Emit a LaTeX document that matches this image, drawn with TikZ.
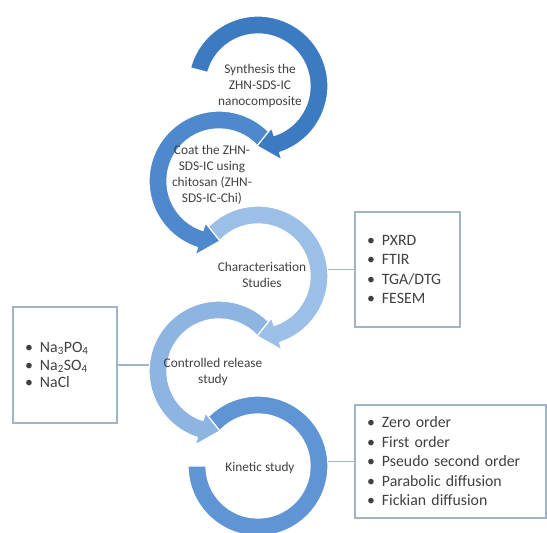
\documentclass[tikz,border=0pt]{standalone}
\usepackage{fontspec}
\setmainfont{Carlito}
\usetikzlibrary{calc}
\definecolor{txt}{HTML}{404040}
\definecolor{boxc}{HTML}{A3B2C4}
\definecolor{ringA}{HTML}{3C7BC1}
\definecolor{ringB}{HTML}{4D89CC}
\definecolor{ringC}{HTML}{9CBFE7}
\definecolor{ringD}{HTML}{8EB4E2}
\definecolor{ringE}{HTML}{5F95D5}
\tikzset{
  ringshape/.style={fill=#1, draw=white, line width=1.3pt, line join=round},
  ringtext/.style={text=txt, align=center, font=\fontsize{13.3}{16}\selectfont, inner sep=0pt},
  listbox/.style={draw=boxc, line width=1.3pt, fill=white, text=txt, align=left,
    inner xsep=12pt, inner ysep=0pt, font=\fontsize{15.8}{19.5}\selectfont},
  conn/.style={draw=boxc, line width=1.3pt}
}
\newcommand\bul{\makebox[15pt][l]{\textbullet}}
\begin{document}
\begin{tikzpicture}[x=1pt,y=1pt]
\useasboundingbox (0,0) rectangle (547,533);
% ring 5 (bottom)
\begin{scope}[shift={(258,67)}]
  \path[ringshape=ringE] (140:70) arc[start angle=140,end angle=-180,radius=70]
    -- (-180:52) arc[start angle=-180,end angle=140,radius=52] -- cycle;
\end{scope}
% ring 4
\begin{scope}[shift={(219,162)}]
  \path[ringshape=ringD] (42:70) arc[start angle=42,end angle=252,radius=70]
    -- (252:78) -- (271:60) -- (252:44) -- (252:52)
    arc[start angle=252,end angle=42,radius=52] -- cycle;
\end{scope}
% ring 3
\begin{scope}[shift={(258,257)}]
  \path[ringshape=ringC] (140:70) arc[start angle=140,end angle=-72,radius=70]
    -- (-72:78) -- (-91:60) -- (-72:44) -- (-72:52)
    arc[start angle=-72,end angle=140,radius=52] -- cycle;
\end{scope}
% ring 2
\begin{scope}[shift={(219,352)}]
  \path[ringshape=ringB] (42:70) arc[start angle=42,end angle=252,radius=70]
    -- (252:78) -- (271:60) -- (252:44) -- (252:52)
    arc[start angle=252,end angle=42,radius=52] -- cycle;
\end{scope}
% ring 1 (top)
\begin{scope}[shift={(258,447)}]
  \path[ringshape=ringA] (165:70) arc[start angle=165,end angle=-72,radius=70]
    -- (-72:78) -- (-91:60) -- (-72:44) -- (-72:52)
    arc[start angle=-72,end angle=165,radius=52] -- cycle;
\end{scope}

% ring texts
\node[ringtext] (t1) at (260,447) {Synthesis the\\ZHN-SDS-IC\\nanocomposite};
\node[ringtext] (t2) at (212,358) {Coat the ZHN-\\SDS-IC using\\chitosan (ZHN-\\SDS-IC-Chi)};
\node[ringtext] (t3) at (262,258.5) {Characterisation\\Studies};
\node[ringtext] (t4) at (213,161.5) {Controlled release\\study};
\node[ringtext] (t5) at (260,65) {Kinetic study};

% boxes
\node[listbox, minimum width=105pt, minimum height=115pt, text width=81pt] (b1) at (407.5,263.5)
  {\bul PXRD\\\bul FTIR\\\bul TGA/DTG\\\bul FESEM};
\node[listbox, minimum width=104pt, minimum height=116pt, text width=80pt,
  font=\fontsize{15.8}{17.8}\selectfont] (b2) at (65,168)
  {\bul Na\textsubscript{3}PO\textsubscript{4}\\\bul Na\textsubscript{2}SO\textsubscript{4}\\\bul NaCl};
\node[listbox, minimum width=191pt, minimum height=113pt, text width=167pt] (b3) at (450.5,71.5)
  {\bul Zero order\\\bul First order\\\bul Pseudo second order\\\bul Parabolic diffusion\\\bul Fickian diffusion};

% connector end points on the rings
\coordinate (r3e) at (327.7,263.5);
\coordinate (r4w) at (149.3,168);
\coordinate (r5e) at (327.9,71.5);
\draw[conn] (r3e) -- (b1.west);
\draw[conn] (b2.east) -- (r4w);
\draw[conn] (r5e) -- (b3.west);
\end{tikzpicture}
\end{document}
